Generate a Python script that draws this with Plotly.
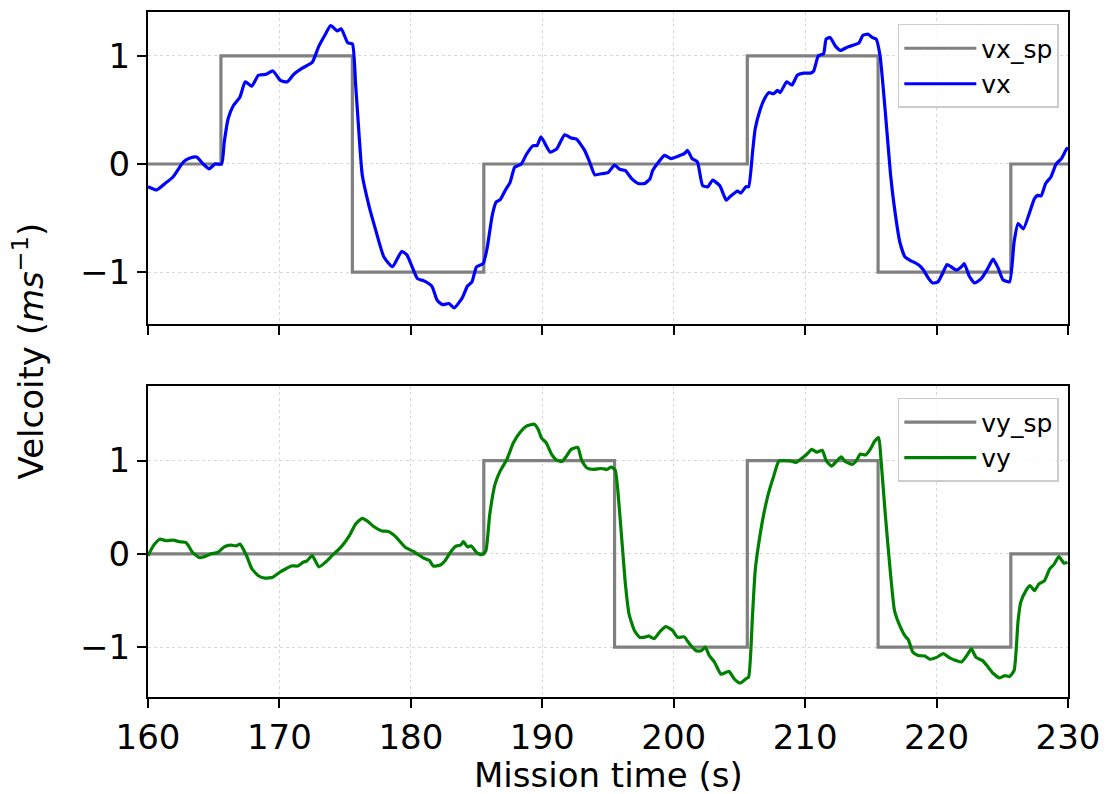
import plotly.graph_objects as go

# ---------------- data ----------------
sp_t = [160.0, 165.55, 175.55, 185.55, 195.5, 205.6, 215.55, 225.65, 230.0]
vx_sp = [0, 1, -1, 0, 0, 1, -1, 0, 0]
vy_sp = [0, 0, 0, 1, -1, 1, -1, 0, 0]

vx_t = [160.0, 160.66, 161.3, 161.9, 162.7, 163.2, 163.7, 164.2, 164.65, 165.1, 165.6, 165.8, 166.1, 166.5,
        167.0, 167.4, 167.9, 168.4, 169.0, 169.5, 170.1, 170.6, 171.1, 171.8, 172.5, 173.0, 173.5, 173.9,
        174.4, 174.7, 175.2, 175.55, 175.8, 176.06, 176.3, 176.8, 177.3, 177.95, 178.6, 179.3, 179.7, 180.5,
        181.0, 181.6, 182.0, 182.4, 182.9, 183.3, 183.9, 184.3, 184.65, 185.0, 185.5, 185.8, 186.2, 186.5,
        186.8, 187.2, 187.55, 187.9, 188.4, 188.8, 189.3, 189.6, 189.9, 190.6, 191.1, 191.7, 192.2, 192.6,
        193.2, 193.6, 194.0, 194.5, 195.0, 195.5, 195.9, 196.3, 196.8, 197.3, 197.8, 198.2, 198.4, 198.8,
        199.3, 199.8, 200.3, 200.8, 201.06, 201.4, 201.8, 202.2, 202.6, 202.95, 203.5, 204.0, 204.3, 204.85,
        205.1, 205.5, 205.7, 206.0, 206.2, 206.6, 206.9, 207.25, 207.6, 207.9, 208.1, 208.6, 209.0, 209.4,
        209.9, 210.4, 210.65, 211.0, 211.4, 211.6, 211.9, 212.3, 212.7, 213.2, 213.7, 214.1, 214.4, 214.8,
        215.1, 215.4, 215.7, 216.1, 216.5, 216.8, 217.2, 217.6, 217.98, 218.6, 219.0, 219.4, 219.7, 220.1,
        220.5, 220.8, 221.1, 221.5, 221.9, 222.1, 222.5, 222.9, 223.4, 223.9, 224.3, 224.7, 225.05, 225.55,
        225.9, 226.2, 226.6, 227.1, 227.45, 227.7, 227.95, 228.3, 228.7, 229.1, 229.5, 229.9, 230.0]
vx = [-0.21, -0.24, -0.18, -0.12, 0.02, 0.055, 0.065, 0.0, -0.045, 0.0, 0.0, 0.20, 0.42, 0.54,
      0.62, 0.76, 0.72, 0.82, 0.83, 0.86, 0.77, 0.76, 0.83, 0.89, 0.94, 1.09, 1.20, 1.28,
      1.23, 1.25, 1.12, 1.11, 0.73, 0.27, -0.10, -0.38, -0.60, -0.86, -0.95, -0.81, -0.84, -1.06,
      -1.08, -1.13, -1.26, -1.30, -1.29, -1.33, -1.24, -1.13, -1.09, -0.95, -0.92, -0.78, -0.47, -0.35,
      -0.33, -0.24, -0.17, -0.03, 0.0, 0.09, 0.17, 0.17, 0.25, 0.11, 0.14, 0.27, 0.24, 0.23,
      0.13, 0.02, -0.10, -0.09, -0.08, -0.01, -0.05, -0.06, -0.135, -0.18, -0.18, -0.135, -0.06, 0.01,
      0.08, 0.05, 0.07, 0.095, 0.125, 0.05, 0.02, -0.20, -0.21, -0.15, -0.20, -0.335, -0.30, -0.25,
      -0.27, -0.21, -0.21, 0.11, 0.325, 0.51, 0.60, 0.66, 0.65, 0.68, 0.66, 0.76, 0.73, 0.82,
      0.84, 0.84, 0.86, 1.0, 1.02, 1.155, 1.17, 1.09, 1.05, 1.08, 1.10, 1.12, 1.19, 1.20,
      1.17, 1.155, 1.0, 0.48, -0.10, -0.41, -0.72, -0.86, -0.89, -0.93, -0.98, -1.06, -1.10, -1.09,
      -1.0, -0.93, -0.95, -0.98, -0.95, -0.92, -1.04, -1.10, -1.06, -0.965, -0.88, -0.965, -1.07, -1.09,
      -0.72, -0.55, -0.60, -0.44, -0.32, -0.29, -0.295, -0.18, -0.12, 0.0, 0.05, 0.14, 0.15]

vy_t = [160.0, 160.4, 160.9, 161.4, 161.9, 162.4, 162.9, 163.4, 163.9, 164.3, 164.8, 165.3, 165.8, 166.3,
        166.7, 167.0, 167.5, 167.9, 168.4, 168.9, 169.5, 170.0, 170.5, 170.9, 171.4, 171.8, 172.1, 172.5,
        173.0, 173.5, 174.0, 174.7, 175.3, 175.8, 176.3, 176.7, 177.2, 177.8, 178.3, 178.8, 179.6, 180.2,
        180.9, 181.4, 181.7, 182.25, 182.6, 183.0, 183.4, 183.8, 184.0, 184.3, 184.6, 185.0, 185.4, 185.7,
        186.0, 186.4, 186.8, 187.3, 187.8, 188.3, 188.8, 189.4, 189.7, 189.95, 190.3, 190.7, 191.1, 191.5,
        191.8, 192.2, 192.7, 193.0, 193.4, 193.9, 194.5, 194.9, 195.25, 195.55, 195.9, 196.3, 196.6, 197.0,
        197.4, 197.9, 198.1, 198.5, 198.98, 199.4, 199.9, 200.3, 200.8, 201.2, 201.7, 202.1, 202.4, 202.7,
        203.1, 203.6, 204.2, 204.6, 205.05, 205.5, 205.7, 206.0, 206.2, 206.5, 206.9, 207.25, 207.6, 208.0,
        208.4, 208.9, 209.3, 209.8, 210.15, 210.5, 210.9, 211.3, 211.6, 212.0, 212.4, 212.75, 213.05, 213.6,
        213.9, 214.2, 214.6, 214.95, 215.3, 215.6, 215.76, 216.1, 216.5, 216.8, 217.2, 217.6, 217.85, 218.2,
        218.6, 219.1, 219.5, 220.0, 220.5, 221.0, 221.5, 221.9, 222.3, 222.65, 223.0, 223.5, 223.9, 224.3,
        224.8, 225.2, 225.55, 225.9, 226.2, 226.4, 226.8, 227.1, 227.45, 227.8, 228.2, 228.6, 228.95, 229.3,
        229.7, 229.96]
vy = [-0.02, 0.085, 0.157, 0.14, 0.147, 0.13, 0.12, 0.014, -0.04, -0.03, 0.0, 0.014, 0.075, 0.093,
      0.085, 0.104, -0.02, -0.16, -0.235, -0.26, -0.25, -0.20, -0.16, -0.13, -0.13, -0.09, -0.075, -0.02,
      -0.14, -0.09, -0.02, 0.075, 0.19, 0.32, 0.38, 0.35, 0.29, 0.245, 0.24, 0.19, 0.067, 0.025,
      -0.04, -0.07, -0.13, -0.12, -0.075, 0.014, 0.08, 0.095, 0.13, 0.075, 0.085, 0.014, -0.01, 0.03,
      0.42, 0.745, 0.89, 1.01, 1.19, 1.30, 1.37, 1.39, 1.33, 1.24, 1.19, 1.07, 1.005, 0.99,
      1.04, 1.12, 1.14, 1.0, 0.92, 0.905, 0.915, 0.905, 0.93, 0.895, 0.42, -0.29, -0.645, -0.82,
      -0.895, -0.89, -0.88, -0.91, -0.83, -0.78, -0.82, -0.895, -0.89, -0.965, -1.04, -1.04, -1.0, -1.09,
      -1.16, -1.29, -1.26, -1.34, -1.385, -1.34, -1.32, -0.645, -0.18, 0.14, 0.46, 0.67, 0.83, 0.995,
      1.0, 0.995, 0.98, 1.03, 1.07, 1.12, 1.09, 1.11, 1.0, 0.94, 0.995, 1.04, 0.99, 0.96,
      1.0, 1.07, 1.06, 1.12, 1.21, 1.245, 1.03, 0.42, -0.22, -0.61, -0.77, -0.88, -0.92, -1.055,
      -1.09, -1.095, -1.13, -1.11, -1.07, -1.115, -1.145, -1.16, -1.09, -1.02, -1.11, -1.145, -1.21, -1.28,
      -1.33, -1.305, -1.315, -1.25, -0.72, -0.52, -0.395, -0.34, -0.395, -0.32, -0.29, -0.165, -0.11, -0.03,
      -0.10, -0.09]

x_ticks = [160, 170, 180, 190, 200, 210, 220, 230]
y_ticks = [-1, 0, 1]
y_ticktext = ["\u22121", "0", "1"]

FONT = "DejaVu Sans"
GRAY = "#808080"

fig = go.Figure()
fig.add_trace(go.Scatter(x=sp_t, y=vx_sp, mode="lines", name="vx_sp", line=dict(color=GRAY, width=3.2, shape="hv"),
                         xaxis="x", yaxis="y", legend="legend"))
fig.add_trace(go.Scatter(x=vx_t, y=vx, mode="lines", name="vx",
                         line=dict(color="#0000ff", width=3.2, shape="spline", smoothing=0.5),
                         xaxis="x", yaxis="y", legend="legend"))
fig.add_trace(go.Scatter(x=sp_t, y=vy_sp, mode="lines", name="vy_sp", line=dict(color=GRAY, width=3.2, shape="hv"),
                         xaxis="x2", yaxis="y2", legend="legend2"))
fig.add_trace(go.Scatter(x=vy_t, y=vy, mode="lines", name="vy",
                         line=dict(color="#008000", width=3.2, shape="spline", smoothing=0.5),
                         xaxis="x2", yaxis="y2", legend="legend2"))

axis_common = dict(showline=True, linecolor="black", linewidth=2, mirror=True,
                   ticks="outside", ticklen=9, tickwidth=2, tickcolor="black",
                   showgrid=True, gridcolor="#d8d8d8", gridwidth=1, griddash="dot",
                   zeroline=False, tickfont=dict(family=FONT, size=34, color="black"))

legend_common = dict(xanchor="right", yanchor="top",
                     bgcolor="rgba(255,255,255,0.8)", bordercolor="#cccccc", borderwidth=1.5,
                     font=dict(family=FONT, size=25, color="black"), itemwidth=72)

fig.update_layout(
    width=1110, height=794,
    margin=dict(l=148, r=38, t=10, b=97),
    paper_bgcolor="white", plot_bgcolor="white",
    font=dict(family=FONT, color="black"),
    xaxis=dict(domain=[0, 1], range=[160, 230], tickvals=x_ticks, showticklabels=False,
               anchor="y", matches="x2", **axis_common),
    yaxis=dict(domain=[0.5444, 1], range=[-1.48, 1.405], tickvals=y_ticks, ticktext=y_ticktext,
               anchor="x", **axis_common),
    xaxis2=dict(domain=[0, 1], range=[160, 230], tickvals=x_ticks, anchor="y2", **axis_common),
    yaxis2=dict(domain=[0, 0.4541], range=[-1.535, 1.80], tickvals=y_ticks, ticktext=y_ticktext,
                anchor="x2", **axis_common),
    legend=dict(x=0.99, y=0.9825, **legend_common),
    legend2=dict(x=0.99, y=0.4367, **legend_common),
    showlegend=True,
    annotations=[
        dict(text="Mission time (s)", x=0.5, y=-0.1135, xref="paper", yref="paper",
             xanchor="center", yanchor="middle", showarrow=False,
             font=dict(family=FONT, size=34, color="black")),
        dict(text="Velcoity (<i>ms</i><sup>\u22121</sup>)", x=-0.13, y=0.505, xref="paper", yref="paper",
             xanchor="center", yanchor="middle", showarrow=False, textangle=-90,
             font=dict(family=FONT, size=34, color="black")),
    ],
)

fig.write_html("out.html", config={"displayModeBar": False},
               post_script="document.body.style.margin='0px';document.body.style.overflow='hidden';")
